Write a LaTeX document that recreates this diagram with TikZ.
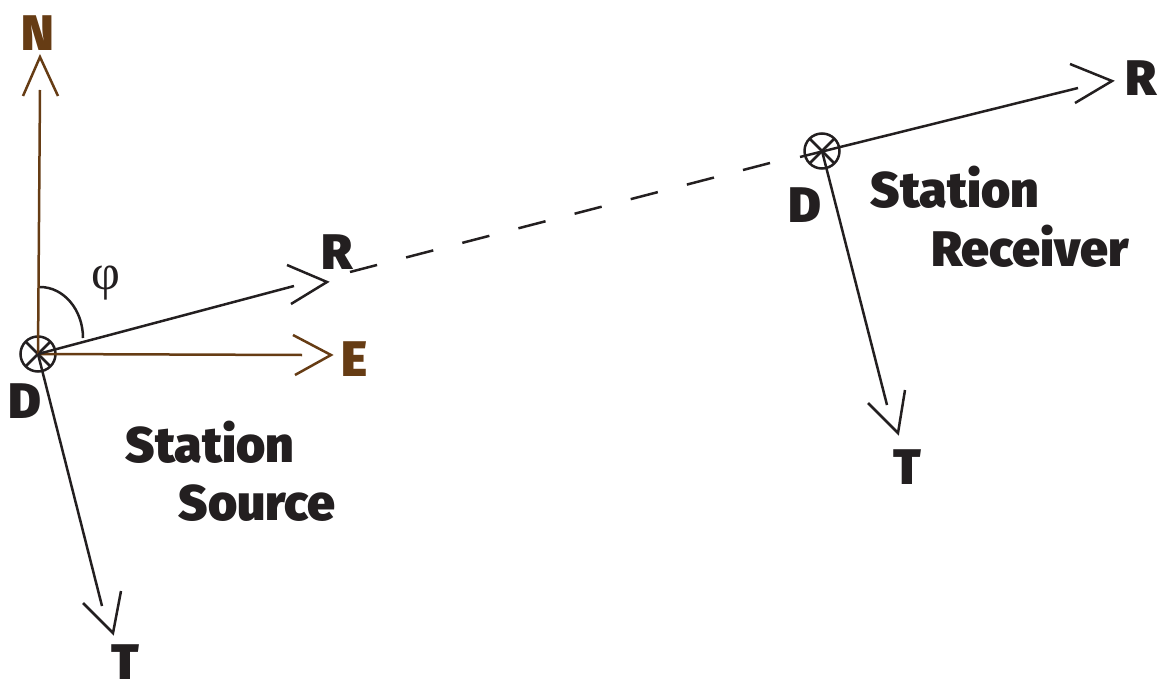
\documentclass[tikz,border=0pt]{standalone}
\usepackage{fontspec}
\setmainfont{Fira Sans}[BoldFont={Fira Sans Black}]
\newfontfamily\phifont{Liberation Serif}
\usetikzlibrary{calc}
\definecolor{brn}{RGB}{102,60,20}
\definecolor{ink}{RGB}{35,31,32}
\tikzset{
  ln/.style={line width=2.5pt, draw=ink},
  bln/.style={line width=2.5pt, draw=brn},
  lbl/.style={font=\fontsize{50}{50}\selectfont\bfseries, text=ink, inner sep=0pt},
  blbl/.style={lbl, text=brn},
  stn/.style={circle, draw=ink, line width=2.5pt, minimum size=35pt, inner sep=0pt},
}
\begin{document}
\begin{tikzpicture}[x=1pt,y=-1pt]
\useasboundingbox (0,0) rectangle (1166,687);
% source station
\node[stn] (S) at (38,354) {};
\draw[ln] (S.center) -- ++(45:17) (S.center) -- ++(135:17) (S.center) -- ++(225:17) (S.center) -- ++(-45:17);
% N
\coordinate (Nend) at (40,90);
\coordinate (Ntip) at (40,57);
\draw[bln] (S.center) -- (Nend);
\draw[bln] (23,96) -- (Ntip) -- (58,96);
\node[blbl] (N) at (38,33) {N};
% E
\coordinate (Eend) at (302,355);
\coordinate (Etip) at (331,355);
\draw[bln] (S.center) -- (Eend);
\draw[bln] (293,335) -- (Etip) -- (295,375);
\node[blbl] (E) at (354,359) {E};
% R
\coordinate (Rend) at (294,286);
\coordinate (Rtip) at (327,282);
\draw[ln] (S.center) -- (Rend);
\draw[ln] (287,265) -- (Rtip) -- (291,304);
\node[lbl] (R) at (337,252) {R};
% T
\coordinate (Tend) at (102,606);
\coordinate (Ttip) at (113,633);
\draw[ln] (S.center) -- (Tend);
\draw[ln] (83,603) -- (Ttip) -- (121,591);
\node[lbl] (T) at (125,662) {T};
% phi
\draw[ln] (40,287) arc[start angle=-90, end angle=0, x radius=43, y radius=51];
\node[font=\fontsize{50}{50}\selectfont\phifont, text=ink, inner sep=0pt] (phi) at (106,283) {φ};
\node[lbl] (D1) at (25,401) {D};
\node[lbl] (st1) at (210,442) {Station};
\node[lbl] (so1) at (257,503) {Source};
% receiver
\node[stn] (Rc) at (822,151) {};
\draw[ln] (Rc.center) -- ++(45:17) (Rc.center) -- ++(135:17) (Rc.center) -- ++(225:17) (Rc.center) -- ++(-45:17);
\coordinate (RRstart) at (800,157);
\coordinate (RRend) at (1078,88);
\coordinate (RRtip) at (1112,81);
\draw[ln] (RRstart) -- (RRend);
\draw[ln] (1070,64) -- (RRtip) -- (1075,103);
\node[lbl] (R2) at (1141,78) {R};
\coordinate (TTend) at (887,405);
\coordinate (TTtip) at (898,433);
\draw[ln] (Rc.center) -- (TTend);
\draw[ln] (868,403) -- (TTtip) -- (905,390);
\node[lbl] (T2) at (907,467) {T};
\node[lbl] (D2) at (805,205) {D};
\node[lbl] (st2) at (955,187) {Station};
\node[lbl] (re2) at (1030,246) {Receiver};
% dashed link
\coordinate (dA) at (350,272);
\coordinate (dB) at (770,163);
\draw[ln, dash pattern=on 28pt off 30pt] (dA) -- (dB);
\end{tikzpicture}
\end{document}
